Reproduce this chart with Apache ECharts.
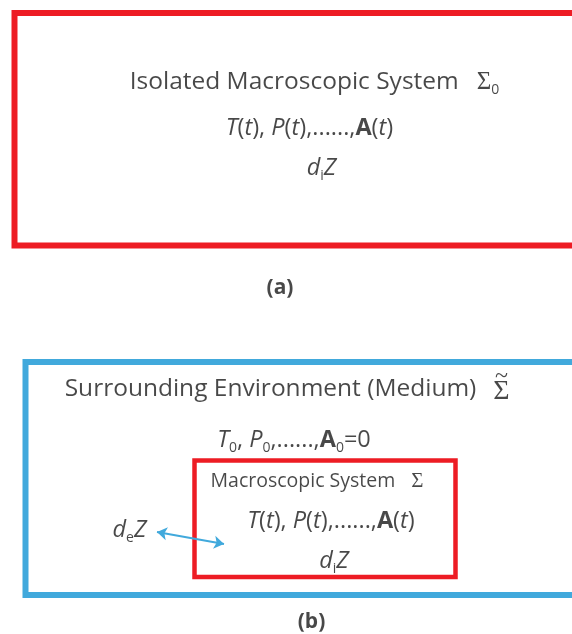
<!DOCTYPE html>
<html>
<head>
<meta charset="utf-8">
<script src="https://cdn.jsdelivr.net/npm/echarts@6/dist/echarts.min.js"></script>
<style>
html, body { margin: 0; padding: 0; background: #fff; }
#main { width: 572px; height: 634px; }
</style>
</head>
<body>
<div id="main"></div>
<script>
// frames: [x0, y0, x1, y1] in diagram units (top box, environment, inner system)
var frames = [
  [14.5, 13, 600, 245.5],
  [25.5, 362, 600, 595],
  [194.5, 460.5, 455.5, 577]
];
// label texts (rich tokens)
var labels = [
  "{t|Isolated Macroscopic System}{gap|}{sig|Σ}{sub|0}",
  "{i|T}{n|(}{i|t}{n|), }{i|P}{n|(}{i|t}{n|),......,}{b|A}{n|(}{i|t}{n|)}",
  "{i|d}{sub|i}{i|Z}",
  "{cap|(a)}",
  "{big|Surrounding Environment (Medium)}",
  "{bsig|Σ}",
  "{tl|~}",
  "{i|T}{sub|0}{n|, }{i|P}{sub|0}{n|,......,}{b|A}{sub|0}{n|=0}",
  "{s|Macroscopic System}{sgap|}{ssig|Σ}",
  "{i|T}{n|(}{i|t}{n|), }{i|P}{n|(}{i|t}{n|),......,}{b|A}{n|(}{i|t}{n|)}",
  "{i|d}{sub|i}{i|Z}",
  "{i|d}{sub|e}{i|Z}",
  "{cap|(b)}"
];
// label anchors (centre of each text)
var anchors = [
  [314.5, 82], [309.5, 128], [321.5, 168], [280, 288],
  [270.5, 389], [501.5, 392], [501.5, 377], [294, 440], [317, 481], [331, 521], [334, 561], [129.5, 530], [311.5, 622]
];
// exchange arrow d_eZ <-> system
var arrow = [[157, 532], [224, 544]];

var red = "#ED1C24";
var blue = "#41A9DC";
var ink = "#1A1A1A";
var frameColors = [red, blue, red];
var frameWidths = [6, 6, 4.5];

var sans = "Open Sans";
var serif = "Liberation Serif";
var rich = {
  t: { fontFamily: sans, fontSize: 24.5, color: ink, lineHeight: 30 },
  n: { fontFamily: sans, fontSize: 23.5, color: ink, lineHeight: 30 },
  i: { fontFamily: sans, fontSize: 23.5, fontStyle: "italic", color: ink, lineHeight: 30 },
  b: { fontFamily: sans, fontSize: 23.5, fontWeight: "bold", color: ink, lineHeight: 30 },
  sub: { fontFamily: sans, fontSize: 14, color: ink, lineHeight: 18, verticalAlign: "bottom" },
  gap: { width: 18 },
  sig: { fontFamily: serif, fontSize: 25, color: ink, lineHeight: 30 },
  big: { fontFamily: sans, fontSize: 24.5, color: ink, lineHeight: 34 },
  bsig: { fontFamily: serif, fontSize: 28, color: ink, lineHeight: 34 },
  tl: { fontFamily: serif, fontSize: 24, color: ink, lineHeight: 24 },
  s: { fontFamily: sans, fontSize: 19.5, color: ink, lineHeight: 26 },
  sgap: { width: 16 },
  ssig: { fontFamily: serif, fontSize: 21, color: ink, lineHeight: 26 },
  cap: { fontFamily: sans, fontSize: 21, fontWeight: "bold", color: ink, lineHeight: 26 }
};

var chart = echarts.init(document.getElementById("main"));
var option = {
  animation: false,
  backgroundColor: "#fff",
  grid: { left: 0, right: 0, top: 0, bottom: 0, outerBoundsMode: "none" },
  xAxis: { type: "value", min: 0, max: 572, show: false },
  yAxis: { type: "value", min: 0, max: 634, inverse: true, show: false },
  series: [
    {
      type: "custom",
      silent: true,
      data: frames,
      renderItem: function (params, api) {
        var p0 = api.coord([api.value(0), api.value(1)]);
        var p1 = api.coord([api.value(2), api.value(3)]);
        return {
          type: "rect",
          shape: { x: p0[0], y: p0[1], width: p1[0] - p0[0], height: p1[1] - p0[1] },
          style: {
            fill: "none",
            stroke: frameColors[params.dataIndex],
            lineWidth: frameWidths[params.dataIndex]
          }
        };
      }
    },
    {
      type: "lines",
      coordinateSystem: "cartesian2d",
      silent: true,
      symbol: ["arrow", "arrow"],
      symbolSize: 10,
      lineStyle: { color: blue, width: 2, opacity: 1 },
      data: [{ coords: arrow }]
    },
    {
      type: "scatter",
      silent: true,
      symbolSize: 1,
      itemStyle: { color: "transparent" },
      label: {
        show: true,
        position: "inside",
        formatter: function (p) {
          return labels[p.dataIndex];
        },
        rich: rich
      },
      data: anchors
    }
  ]
};
chart.setOption(option);
</script>
</body>
</html>
